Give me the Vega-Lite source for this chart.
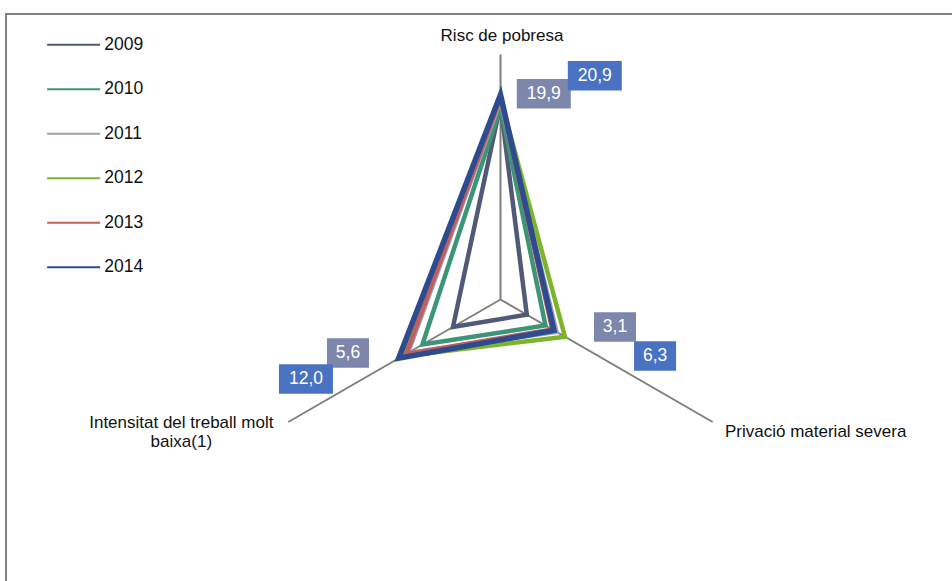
{
  "$schema": "https://vega.github.io/schema/vega-lite/v6.json",
  "width": 948,
  "height": 569,
  "autosize": {"type": "none"},
  "padding": {"left": 6, "top": 14, "right": -2, "bottom": -2},
  "background": "white",
  "view": {"stroke": "#808080", "strokeWidth": 2},
  "config": {"font": "Liberation Sans"},
  "datasets": {
    "series": [
      {"year": "2009", "axis": "Risc de pobresa", "k": 0, "value": 19.9},
      {"year": "2009", "axis": "Privació material severa", "k": 1, "value": 3.1},
      {"year": "2009", "axis": "Intensitat del treball molt baixa(1)", "k": 2, "value": 5.6},
      {"year": "2010", "axis": "Risc de pobresa", "k": 0, "value": 19.6},
      {"year": "2010", "axis": "Privació material severa", "k": 1, "value": 5.3},
      {"year": "2010", "axis": "Intensitat del treball molt baixa(1)", "k": 2, "value": 9.2},
      {"year": "2011", "axis": "Risc de pobresa", "k": 0, "value": 20.3},
      {"year": "2011", "axis": "Privació material severa", "k": 1, "value": 6.6},
      {"year": "2011", "axis": "Intensitat del treball molt baixa(1)", "k": 2, "value": 10.9},
      {"year": "2012", "axis": "Risc de pobresa", "k": 0, "value": 20.5},
      {"year": "2012", "axis": "Privació material severa", "k": 1, "value": 7.6},
      {"year": "2012", "axis": "Intensitat del treball molt baixa(1)", "k": 2, "value": 11.6},
      {"year": "2013", "axis": "Risc de pobresa", "k": 0, "value": 20.6},
      {"year": "2013", "axis": "Privació material severa", "k": 1, "value": 6.1},
      {"year": "2013", "axis": "Intensitat del treball molt baixa(1)", "k": 2, "value": 11.1},
      {"year": "2014", "axis": "Risc de pobresa", "k": 0, "value": 20.9},
      {"year": "2014", "axis": "Privació material severa", "k": 1, "value": 6.3},
      {"year": "2014", "axis": "Intensitat del treball molt baixa(1)", "k": 2, "value": 12.0}
    ],
    "axes": [
      {"k": 0, "label": "Risc de pobresa", "max": 25},
      {"k": 1, "label": "Privació material severa", "max": 25},
      {"k": 2, "label": "Intensitat del treball molt\nbaixa(1)", "max": 25}
    ]
  },
  "layer": [
    {
      "data": {"name": "axes"},
      "transform": [
        {"calculate": "0", "as": "c0"},
        {"calculate": "datum.max*sin(datum.k*2*PI/3)", "as": "ex"},
        {"calculate": "datum.max*cos(datum.k*2*PI/3)", "as": "ey"}
      ],
      "mark": {"type": "rule", "color": "#7f7f7f", "strokeWidth": 2},
      "encoding": {
        "x": {"field": "c0", "type": "quantitative", "scale": {"domain": [-50.459, 46.275], "nice": false, "zero": false}, "axis": null},
        "y": {"field": "c0", "type": "quantitative", "scale": {"domain": [-28.929, 29.133], "nice": false, "zero": false}, "axis": null},
        "x2": {"field": "ex"},
        "y2": {"field": "ey"}
      }
    },
    {
      "data": {"name": "series"},
      "transform": [
        {"calculate": "datum.value*sin(datum.k*2*PI/3)", "as": "px"},
        {"calculate": "datum.value*cos(datum.k*2*PI/3)", "as": "py"}
      ],
      "mark": {"type": "line", "interpolate": "linear-closed", "strokeJoin": "miter", "strokeMiterLimit": 10},
      "encoding": {
        "x": {"field": "px", "type": "quantitative", "axis": null},
        "y": {"field": "py", "type": "quantitative", "axis": null},
        "order": {"field": "k", "type": "quantitative"},
        "color": {
          "field": "year", "type": "nominal",
          "scale": {"domain": ["2009", "2010", "2011", "2012", "2013", "2014"], "range": ["#505a78", "#3d9577", "#a19db9", "#7cb52b", "#c0605c", "#2d4b8e"]},
          "legend": {
            "title": null, "orient": "none", "legendX": 39, "legendY": 22, "padding": 0,
            "symbolType": "M-1,0H7", "symbolSize": 175.6, "symbolStrokeWidth": 1.8,
            "labelFontSize": 17.5, "labelColor": "#111111", "labelOffset": 41.75, "rowPadding": 25.5
          }
        },
        "strokeWidth": {"condition": {"test": "datum.year == '2014'", "value": 5.5}, "value": 4.5}
      }
    },
    {
      "data": {"name": "series"},
      "transform": [
        {"filter": "datum.year == '2009' || datum.year == '2014'"},
        {"calculate": "datum.value*sin(datum.k*2*PI/3)", "as": "px"},
        {"calculate": "datum.value*cos(datum.k*2*PI/3)", "as": "py"},
        {"calculate": "replace(format(datum.value, '.1f'), '.', ',')", "as": "lab"}
      ],
      "mark": {
        "type": "rect",
        "fill": {"expr": "datum.year == '2014' ? '#4a72c2' : '#7c87ab'"},
        "xOffset": {"expr": "(datum.year == '2014' ? [94.3, 101.1, -92.7] : [43.3, 88.2, -105])[datum.k] - (length(datum.lab) == 4 ? 27 : 21)"},
        "x2Offset": {"expr": "(datum.year == '2014' ? [94.3, 101.1, -92.7] : [43.3, 88.2, -105])[datum.k] + (length(datum.lab) == 4 ? 27 : 21)"},
        "yOffset": {"expr": "(datum.year == '2014' ? [-19, 25.6, 20.7] : [-10.8, 12.3, 26])[datum.k] - 14.75"},
        "y2Offset": {"expr": "(datum.year == '2014' ? [-19, 25.6, 20.7] : [-10.8, 12.3, 26])[datum.k] + 14.75"}
      },
      "encoding": {
        "x": {"field": "px", "type": "quantitative"},
        "x2": {"field": "px"},
        "y": {"field": "py", "type": "quantitative"},
        "y2": {"field": "py"}
      }
    },
    {
      "data": {"name": "series"},
      "transform": [
        {"filter": "datum.year == '2009' || datum.year == '2014'"},
        {"calculate": "datum.value*sin(datum.k*2*PI/3)", "as": "px"},
        {"calculate": "datum.value*cos(datum.k*2*PI/3)", "as": "py"},
        {"calculate": "replace(format(datum.value, '.1f'), '.', ',')", "as": "lab"}
      ],
      "mark": {
        "type": "text", "color": "white", "fontSize": 17.5, "align": "center", "baseline": "middle",
        "dx": {"expr": "(datum.year == '2014' ? [94.3, 101.1, -92.7] : [43.3, 88.2, -105])[datum.k]"},
        "dy": {"expr": "(datum.year == '2014' ? [-19, 25.6, 20.7] : [-10.8, 12.3, 26])[datum.k]"}
      },
      "encoding": {
        "x": {"field": "px", "type": "quantitative"},
        "y": {"field": "py", "type": "quantitative"},
        "text": {"field": "lab", "type": "nominal"}
      }
    },
    {
      "data": {"name": "axes"},
      "transform": [
        {"calculate": "datum.max*sin(datum.k*2*PI/3)", "as": "ex"},
        {"calculate": "datum.max*cos(datum.k*2*PI/3)", "as": "ey"}
      ],
      "mark": {
        "type": "text", "fontSize": 17, "color": "#111111", "baseline": "alphabetic", "lineBreak": "\n", "lineHeight": 19,
        "align": {"expr": "['center', 'left', 'center'][datum.k]"},
        "dx": {"expr": "[1.5, 12.3, -107][datum.k]"},
        "dy": {"expr": "[-13.5, 14.7, 5.7][datum.k]"}
      },
      "encoding": {
        "x": {"field": "ex", "type": "quantitative"},
        "y": {"field": "ey", "type": "quantitative"},
        "text": {"field": "label", "type": "nominal"}
      }
    }
  ]
}
